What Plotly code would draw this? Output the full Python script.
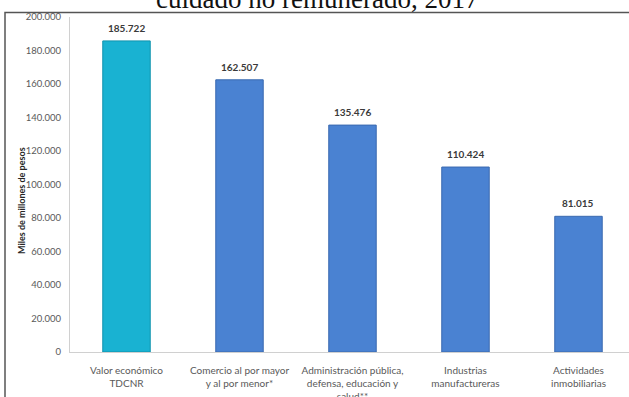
import plotly.graph_objects as go

categories = [
    "Valor económico<br>TDCNR",
    "Comercio al por mayor<br>y al por menor*",
    "Administración pública,<br>defensa, educación y<br>salud**",
    "Industrias<br>manufactureras",
    "Actividades<br>inmobiliarias",
]
values = [185722, 162507, 135476, 110424, 81015]
value_labels = ["185.722", "162.507", "135.476", "110.424", "81.015"]
tick_vals = [0, 20000, 40000, 60000, 80000, 100000, 120000, 140000, 160000, 180000, 200000]
tick_text = ["0", "20.000", "40.000", "60.000", "80.000", "100.000", "120.000",
             "140.000", "160.000", "180.000", "200.000"]
bar_colors = ["#19B2D2", "#4A82D2", "#4A82D2", "#4A82D2", "#4A82D2"]
line_colors = ["#0F93AE", "#3A6AB0", "#3A6AB0", "#3A6AB0", "#3A6AB0"]

W, H = 629, 397
L, R, T, B = 70, 0, 17, 45
pw, ph = W - L - R, H - T - B

def px(x):
    return (x - L) / pw

def py(y):
    return (H - B - y) / ph

xs = list(range(len(categories)))

fig = go.Figure()
fig.add_trace(go.Bar(
    x=xs,
    y=values,
    width=0.42,
    marker=dict(color=bar_colors, line=dict(color=line_colors, width=1)),
    hoverinfo="skip",
))

annotations = [
    dict(text=lbl, x=xi, y=v, xref="x", yref="y", yshift=13,
         xanchor="center", yanchor="middle", showarrow=False,
         font=dict(family="Lato", size=10, color="#3A3A3A", weight="bold"))
    for xi, v, lbl in zip(xs, values, value_labels)
]
annotations += [
    dict(text="cuidado no remunerado, 2017", xref="paper", yref="paper",
         x=px(317), y=py(-1.5), xanchor="center", yanchor="middle",
         showarrow=False,
         font=dict(family="Liberation Serif", size=27, color="#111111")),
    dict(text="<b>Miles de millones de pesos</b>", xref="paper", yref="paper",
         x=px(21), y=py(201), xanchor="center", yanchor="middle",
         textangle=-90, showarrow=False,
         font=dict(family="Lato", size=9, color="#262626")),
]

fig.update_layout(
    width=W, height=H,
    margin=dict(l=L, r=R, t=T, b=B, pad=0, autoexpand=False),
    plot_bgcolor="white", paper_bgcolor="white",
    showlegend=False,
    font=dict(family="Lato", size=10, color="#595959"),
    xaxis=dict(
        range=[-0.5, 4.447],
        automargin=False,
        tickmode="array",
        tickvals=xs,
        ticktext=categories,
        showgrid=False, zeroline=False,
        showline=True, linecolor="#D0D0D0", linewidth=1,
        ticks="", ticklabelstandoff=9,
        tickfont=dict(family="Lato", size=10, color="#595959"),
    ),
    yaxis=dict(
        range=[0, 200000],
        automargin=False,
        tickmode="array", tickvals=tick_vals, ticktext=tick_text,
        showgrid=False, zeroline=False,
        showline=True, linecolor="#D0D0D0", linewidth=1,
        ticks="", ticklabelstandoff=6,
        tickfont=dict(family="Lato", size=9.5, color="#595959"),
    ),
    shapes=[
        dict(type="rect", xref="paper", yref="paper",
             x0=px(5), x1=px(700), y0=py(470), y1=py(12.5),
             line=dict(color="#555555", width=1.5), fillcolor="rgba(0,0,0,0)",
             layer="below"),
    ],
    annotations=annotations,
)

fig.write_html("out.html",
               config={"displayModeBar": False, "staticPlot": True},
               post_script="document.body.style.margin='0';document.body.style.padding='0';document.body.style.overflow='hidden';")
